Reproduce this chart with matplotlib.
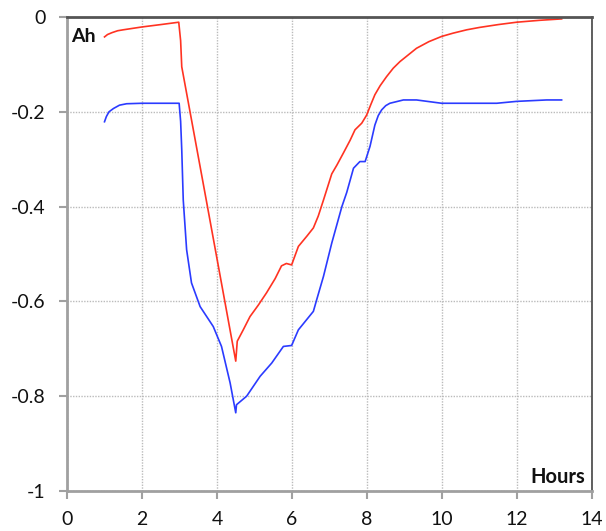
import matplotlib
matplotlib.use("Agg")
import matplotlib.pyplot as plt

plt.rcParams['font.family'] = ['Lato', 'DejaVu Sans']

# Red series (hours, Ah)
red_x = [1.0, 1.08, 1.2, 1.35, 1.5, 1.75, 2.0, 2.5, 2.98, 3.03, 3.06, 3.72, 4.5, 4.54,
         4.7, 4.88, 5.1, 5.32, 5.55, 5.72, 5.85, 5.99, 6.17, 6.4, 6.57, 6.7, 6.84,
         7.06, 7.2, 7.37, 7.55, 7.68, 7.86, 7.99, 8.1, 8.21, 8.35, 8.52, 8.7, 8.88,
         9.1, 9.32, 9.65, 9.99, 10.3, 10.66, 11.0, 11.5, 11.99, 12.6, 13.19]
red_y = [-0.042, -0.037, -0.033, -0.029, -0.027, -0.024, -0.021, -0.016, -0.011, -0.05,
         -0.105, -0.389, -0.726, -0.684, -0.660, -0.632, -0.608, -0.582, -0.552,
         -0.525, -0.520, -0.523, -0.484, -0.462, -0.445, -0.420, -0.386, -0.331,
         -0.312, -0.287, -0.260, -0.238, -0.224, -0.207, -0.185, -0.164, -0.145,
         -0.126, -0.108, -0.094, -0.080, -0.066, -0.052, -0.041, -0.034, -0.027,
         -0.022, -0.016, -0.011, -0.007, -0.004]

# Blue series (hours, Ah)
blue_x = [1.0, 1.05, 1.12, 1.24, 1.4, 1.59, 2.0, 2.5, 2.99, 3.03, 3.06, 3.1, 3.19, 3.32,
          3.55, 3.9, 4.12, 4.35, 4.5, 4.52, 4.79, 5.15, 5.46, 5.77, 5.99, 6.17,
          6.57, 6.66, 6.84, 7.06, 7.33, 7.46, 7.64, 7.81, 7.95, 8.08, 8.21, 8.3,
          8.39, 8.5, 8.61, 8.97, 9.32, 9.99, 11.46, 11.99, 12.79, 13.19]
blue_y = [-0.221, -0.210, -0.200, -0.193, -0.186, -0.183, -0.182, -0.182, -0.182, -0.22,
          -0.28, -0.386, -0.491, -0.561, -0.611, -0.653, -0.695, -0.772, -0.835,
          -0.818, -0.800, -0.758, -0.730, -0.695, -0.693, -0.660, -0.621, -0.596,
          -0.547, -0.477, -0.400, -0.370, -0.319, -0.305, -0.305, -0.273, -0.228,
          -0.208, -0.196, -0.187, -0.182, -0.175, -0.175, -0.182, -0.182, -0.178,
          -0.175, -0.175]

x_ticks = [0, 2, 4, 6, 8, 10, 12, 14]
y_ticks = [0, -0.2, -0.4, -0.6, -0.8, -1]
y_tick_labels = ['0', '-0.2', '-0.4', '-0.6', '-0.8', '-1']

fig = plt.figure(figsize=(6.06, 5.31), dpi=100)
ax = fig.add_axes([67/606, 1-491/531, (592-67)/606, (491-17)/531])

ax.plot(blue_x, blue_y, color='#2b3bff', lw=1.2)
ax.plot(red_x, red_y, color='#ff3322', lw=1.2)

ax.set_xlim(0, 14)
ax.set_ylim(-1, 0)
ax.set_xticks(x_ticks)
ax.set_xticklabels([str(t) for t in x_ticks])
ax.set_yticks(y_ticks)
ax.set_yticklabels(y_tick_labels)

ax.grid(True, linestyle=(0, (1, 1)), color='#bbbbbb', lw=1)
ax.set_axisbelow(True)

for side, col, w in [('left', '#a0a0a0', 2), ('bottom', '#a0a0a0', 2),
                     ('top', '#555555', 2), ('right', '#444444', 1.2)]:
    ax.spines[side].set_color(col)
    ax.spines[side].set_linewidth(w)

ax.tick_params(axis='both', direction='out', length=5.5, color='#a0a0a0', width=1.5,
               labelsize=14, labelcolor='#111111')
ax.tick_params(axis='x', pad=9)
ax.tick_params(axis='y', pad=10)

ax.text(0.007, 0.958, 'Ah', transform=ax.transAxes, fontsize=14, fontweight='bold',
        ha='left', va='center', color='#111111')
ax.text(0.986, 0.030, 'Hours', transform=ax.transAxes, fontsize=14.5, fontweight='bold',
        ha='right', va='center', color='#111111')

fig.savefig('out.png', dpi=100)
